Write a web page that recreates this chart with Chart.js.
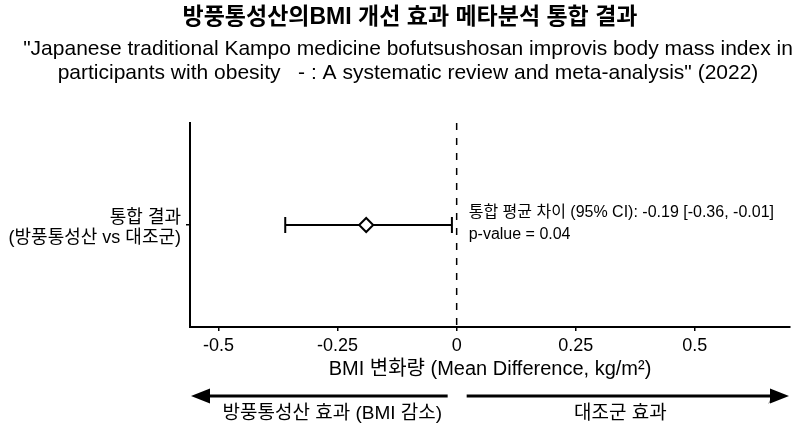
<!DOCTYPE html>
<html>
<head>
<meta charset="utf-8">
<script src="https://cdn.jsdelivr.net/npm/chart.js@4.4.1/dist/chart.umd.min.js"></script>
<style>
  html, body { margin: 0; padding: 0; background: #fff; }
  #wrap { width: 800px; height: 436px; }
</style>
</head>
<body>
<div id="wrap"><canvas id="c" width="800" height="436"></canvas></div>
<script>
// ---- data ----
const categories = [['통합 결과', '(방풍통성산 vs 대조군)']];
const meanDiff = [-0.19];
const ciLower = [-0.36];
const ciUpper = [-0.01];
const xTicks = [-0.5, -0.25, 0, 0.25, 0.5];
const refValue = 0;
const pValue = '0.04';
const titleText = '방풍통성산의BMI 개선 효과 메타분석 통합 결과';
const subtitleLines = [
  '"Japanese traditional Kampo medicine bofutsushosan improvis body mass index in',
  'participants with obesity   - : A systematic review and meta-analysis" (2022)'
];
const xTitle = 'BMI 변화량 (Mean Difference, kg/m²)';
const leftArrowLabel = '방풍통성산 효과 (BMI 감소)';
const rightArrowLabel = '대조군 효과';

const FONT = '"Liberation Sans", "Noto Sans CJK KR", Arial, sans-serif';
Chart.defaults.font.family = FONT;
Chart.defaults.color = '#000';

const errorBarData = [];
categories.forEach((c, i) => {
  errorBarData.push({ x: ciLower[i], y: i });
  errorBarData.push({ x: ciUpper[i], y: i });
});
const pointData = categories.map((c, i) => ({ x: meanDiff[i], y: i }));

const overlay = {
  id: 'overlay',
  beforeDatasetsDraw(chart) {
    const { ctx, chartArea, scales } = chart;
    const x0 = scales.x.getPixelForValue(refValue);
    ctx.save();
    ctx.strokeStyle = '#000';
    ctx.lineWidth = 1.5;
    ctx.setLineDash([7, 8]);
    ctx.beginPath();
    ctx.moveTo(x0, chartArea.top);
    ctx.lineTo(x0, chartArea.bottom);
    ctx.stroke();
    ctx.restore();
  },
  afterDraw(chart) {
    const { ctx, chartArea, scales } = chart;
    const x0 = scales.x.getPixelForValue(refValue);
    ctx.save();
    // title + subtitle
    ctx.fillStyle = '#000';
    ctx.textAlign = 'center';
    ctx.textBaseline = 'middle';
    ctx.font = 'bold 23px ' + FONT;
    ctx.fillText(titleText, 410, 18);
    ctx.font = '21px ' + FONT;
    subtitleLines.forEach((t, k) => ctx.fillText(t, 408, 49 + k * 24));
    // annotation
    categories.forEach((c, i) => {
      const yp = scales.y.getPixelForValue(i);
      ctx.font = '16px ' + FONT;
      ctx.textAlign = 'left';
      ctx.textBaseline = 'middle';
      ctx.fillText('통합 평균 차이 (95% CI): ' + meanDiff[i].toFixed(2) + ' [' + ciLower[i].toFixed(2) + ', ' + ciUpper[i].toFixed(2) + ']', x0 + 12, yp - 12);
      ctx.fillText('p-value = ' + pValue, x0 + 12, yp + 10);
    });
    // arrows
    const ay = chartArea.bottom + 69;
    ctx.strokeStyle = '#000';
    ctx.fillStyle = '#000';
    ctx.lineWidth = 3;
    ctx.setLineDash([]);
    const headL = 19, headH = 7.5;
    // left arrow
    ctx.beginPath();
    ctx.moveTo(x0 - 9, ay);
    ctx.lineTo(chartArea.left + headL - 2, ay);
    ctx.stroke();
    ctx.beginPath();
    ctx.moveTo(chartArea.left + 1, ay);
    ctx.lineTo(chartArea.left + 1 + headL, ay - headH);
    ctx.lineTo(chartArea.left + 1 + headL, ay + headH);
    ctx.closePath();
    ctx.fill();
    // right arrow
    ctx.beginPath();
    ctx.moveTo(x0 + 10, ay);
    ctx.lineTo(chartArea.right - headL + 2, ay);
    ctx.stroke();
    const tipX = chartArea.right - 1;
    ctx.fillStyle = '#8a8a8a';
    ctx.beginPath();
    ctx.moveTo(tipX - headL - 2, ay + 8);
    ctx.lineTo(tipX - headL + 8, ay + 1);
    ctx.lineTo(tipX - headL + 2, ay);
    ctx.closePath();
    ctx.fill();
    ctx.fillStyle = '#000';
    ctx.beginPath();
    ctx.moveTo(tipX, ay);
    ctx.lineTo(tipX - headL, ay - headH);
    ctx.lineTo(tipX - headL, ay + headH);
    ctx.closePath();
    ctx.fill();
    // labels
    ctx.font = '19px ' + FONT;
    ctx.textAlign = 'center';
    ctx.textBaseline = 'middle';
    ctx.fillText(leftArrowLabel, (chartArea.left + x0) / 2 + 9, ay + 18);
    ctx.fillText(rightArrowLabel, (x0 + chartArea.right) / 2 - 3, ay + 18);
    ctx.restore();
  }
};

new Chart(document.getElementById('c'), {
  type: 'scatter',
  data: {
    datasets: [
      {
        label: 'mean',
        data: pointData,
        pointStyle: 'rectRot',
        pointRadius: 7,
        pointHoverRadius: 7,
        pointBackgroundColor: '#fff',
        pointBorderColor: '#000',
        pointBorderWidth: 2,
        order: 0
      },
      {
        type: 'line',
        label: 'ci',
        data: errorBarData,
        borderColor: '#000',
        borderWidth: 2,
        pointStyle: 'line',
        rotation: 90,
        pointRadius: 8,
        pointHoverRadius: 8,
        pointBorderColor: '#000',
        pointBorderWidth: 2,
        showLine: true,
        fill: false,
        order: 1
      }
    ]
  },
  options: {
    responsive: false,
    animation: false,
    events: [],
    layout: { padding: { left: 4, right: 10, top: 123, bottom: 49 } },
    plugins: {
      legend: { display: false },
      tooltip: { enabled: false },
      title: { display: false },
      subtitle: { display: false }
    },
    scales: {
      x: {
        type: 'linear',
        min: -0.56,
        max: 0.70,
        afterBuildTicks(scale) { scale.ticks = xTicks.map(v => ({ value: v })); },
        afterFit(scale) { scale.height = 60; },
        ticks: {
          font: { size: 18 },
          color: '#000',
          padding: 4,
          callback: (v) => String(v)
        },
        grid: { display: true, drawOnChartArea: false, drawTicks: true, tickLength: 4, color: '#000', lineWidth: 1.5 },
        border: { display: true, color: '#000', width: 2 },
        title: {
          display: true,
          text: xTitle,
          color: '#000',
          font: { size: 20, lineHeight: 1.2 },
          padding: { top: 0, bottom: 6 }
        }
      },
      y: {
        type: 'category',
        labels: categories,
        offset: true,
        afterFit(scale) { scale.width = 186; },
        ticks: {
          font: { size: 18, lineHeight: 1.12 },
          color: '#000',
          padding: 5,
          labelOffset: 3
        },
        grid: { display: true, drawOnChartArea: false, drawTicks: true, tickLength: 4, color: '#000', lineWidth: 1.5 },
        border: { display: true, color: '#000', width: 2 }
      }
    }
  },
  plugins: [overlay]
});
</script>
</body>
</html>
